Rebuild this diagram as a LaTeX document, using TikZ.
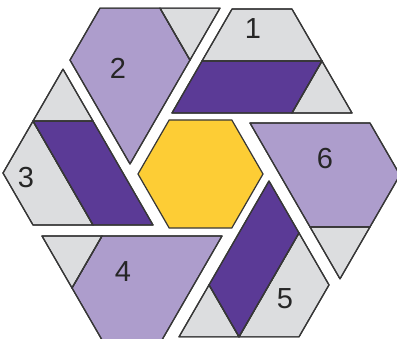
\documentclass[tikz,border=0pt]{standalone}
\usepackage{fontspec}
\setmainfont{Liberation Sans}
\definecolor{lav}{RGB}{173,157,204}
\definecolor{dpurp}{RGB}{91,58,150}
\definecolor{lgrey}{RGB}{220,221,223}
\definecolor{yel}{RGB}{253,205,53}
\definecolor{edge}{RGB}{55,55,55}
\tikzset{
  part/.style={draw=edge, line width=0.7pt, line join=round},
  lbl/.style={font=\fontsize{16.5}{18}\selectfont, text=black!85, inner sep=0pt},
}
\newcommand{\pieceStriped}{%
  \fill[part, fill=lgrey] (30,51.96) -- (150,51.96) -- (120,103.92) -- (60,103.92) -- cycle;
  \fill[part, fill=dpurp] (0,0) -- (120,0) -- (150,51.96) -- (30,51.96) -- cycle;
  \fill[part, fill=lgrey] (120,0) -- (180,0) -- (150,51.96) -- cycle;
  \draw[part] (30,51.96) -- (150,51.96) -- (120,103.92) -- (60,103.92) -- cycle;
  \draw[part] (0,0) -- (120,0) -- (150,51.96) -- (30,51.96) -- cycle;
  \draw[part] (120,0) -- (180,0) -- (150,51.96) -- cycle;
}
\newcommand{\piecePlain}{%
  \fill[part, fill=lav] (0,0) -- (120,0) -- (150,51.96) -- (120,103.92) -- (60,103.92) -- cycle;
  \fill[part, fill=lgrey] (120,0) -- (180,0) -- (150,51.96) -- cycle;
  \draw[part] (0,0) -- (120,0) -- (150,51.96) -- (120,103.92) -- (60,103.92) -- cycle;
  \draw[part] (120,0) -- (180,0) -- (150,51.96) -- cycle;
}
\begin{document}
\begin{tikzpicture}[x=0.02cm, y=0.02cm]
  \useasboundingbox (0,0) rectangle (397,339);
  \clip (0,0) rectangle (397,339);
  % centre hexagon
  \filldraw[part, fill=yel] (169.25,219.1) -- (231.75,219.1) -- (263,165) -- (231.75,110.9) -- (169.25,110.9) -- (138,165) -- cycle;
  % piece 1
  \begin{scope}[shift={(172,226)}] \pieceStriped \end{scope}
  % piece 6
  \begin{scope}[shift={(250,216)}, rotate=-60] \piecePlain \end{scope}
  % piece 5
  \begin{scope}[shift={(269,158)}, rotate=-120] \pieceStriped \end{scope}
  % piece 4
  \begin{scope}[shift={(222,103)}, rotate=180] \piecePlain \end{scope}
  % piece 3
  \begin{scope}[shift={(153,114)}, rotate=120] \pieceStriped \end{scope}
  % piece 2
  \begin{scope}[shift={(130,175)}, rotate=60] \piecePlain \end{scope}
  % labels
  \node[lbl] (l1) at (253,310) {1};
  \node[lbl] (l2) at (118,271) {2};
  \node[lbl] (l3) at (26,161) {3};
  \node[lbl] (l4) at (123,67) {4};
  \node[lbl] (l5) at (285,40) {5};
  \node[lbl] (l6) at (325,180) {6};
\end{tikzpicture}
\end{document}
